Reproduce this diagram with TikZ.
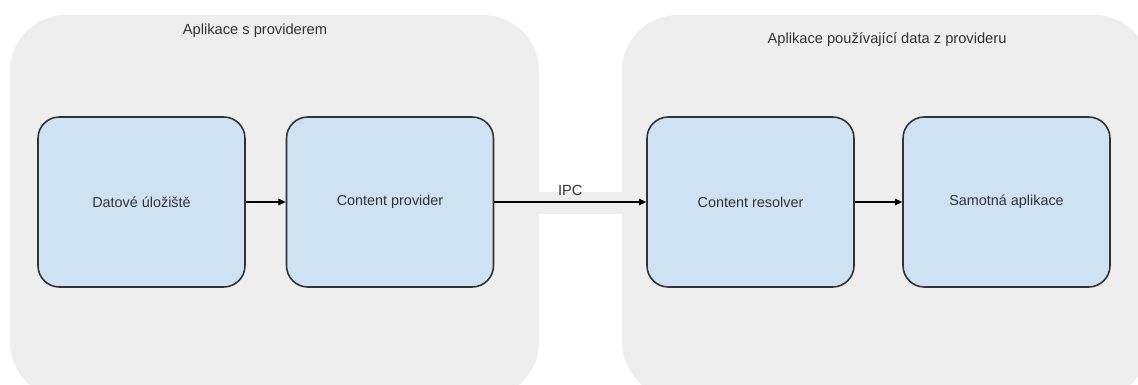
\documentclass[tikz,border=0pt]{standalone}
\usepackage{fontspec}
\setmainfont{Liberation Sans}
\usetikzlibrary{arrows.meta}
\definecolor{panelgray}{HTML}{EEEEEE}
\definecolor{boxblue}{HTML}{CFE2F3}
\definecolor{inkgray}{HTML}{333333}
\tikzset{
  panel/.style={fill=panelgray, draw=none, rounded corners=42pt},
  stepbox/.style={draw=inkgray, fill=boxblue, line width=1.2pt, rounded corners=16pt,
    minimum width=155.25pt, minimum height=127.5pt, inner sep=0pt,
    font=\fontsize{10.8}{13}\selectfont, text=inkgray},
  title/.style={font=\fontsize{11}{13}\selectfont, text=inkgray},
  flow/.style={draw=black, line width=0.8pt, -{Triangle[length=5.5pt,width=5pt]}}
}
\begin{document}
\begin{tikzpicture}[x=0.75pt,y=-0.75pt]
\useasboundingbox (0,0) rectangle (1138,385);
\fill[white] (0,0) rectangle (1138,385);
% the two application panels and the band joining them
\path[panel] (10,15) rectangle (539,398);
\path[panel] (622,15) rectangle (1150,398);
\fill[panelgray] (530,192) rectangle (632,214);
\node[title] (t1) at (255,31) {Aplikace s providerem};
\node[title] (t2) at (887,40) {Aplikace používající data z provideru};
% components
\node[stepbox] (ds) at (141.5,202) {Datové úložiště};
\node[stepbox] (cp) at (390,202) {Content provider};
\node[stepbox] (cr) at (750.5,202) {Content resolver};
\node[stepbox] (app) at (1006.5,202) {Samotná aplikace};
% data flow
\draw[flow] (ds) -- (cp);
\draw[flow] (cp) -- node[title, above=1pt] (ipc) {IPC} (cr);
\draw[flow] (cr) -- (app);
\end{tikzpicture}
\end{document}
